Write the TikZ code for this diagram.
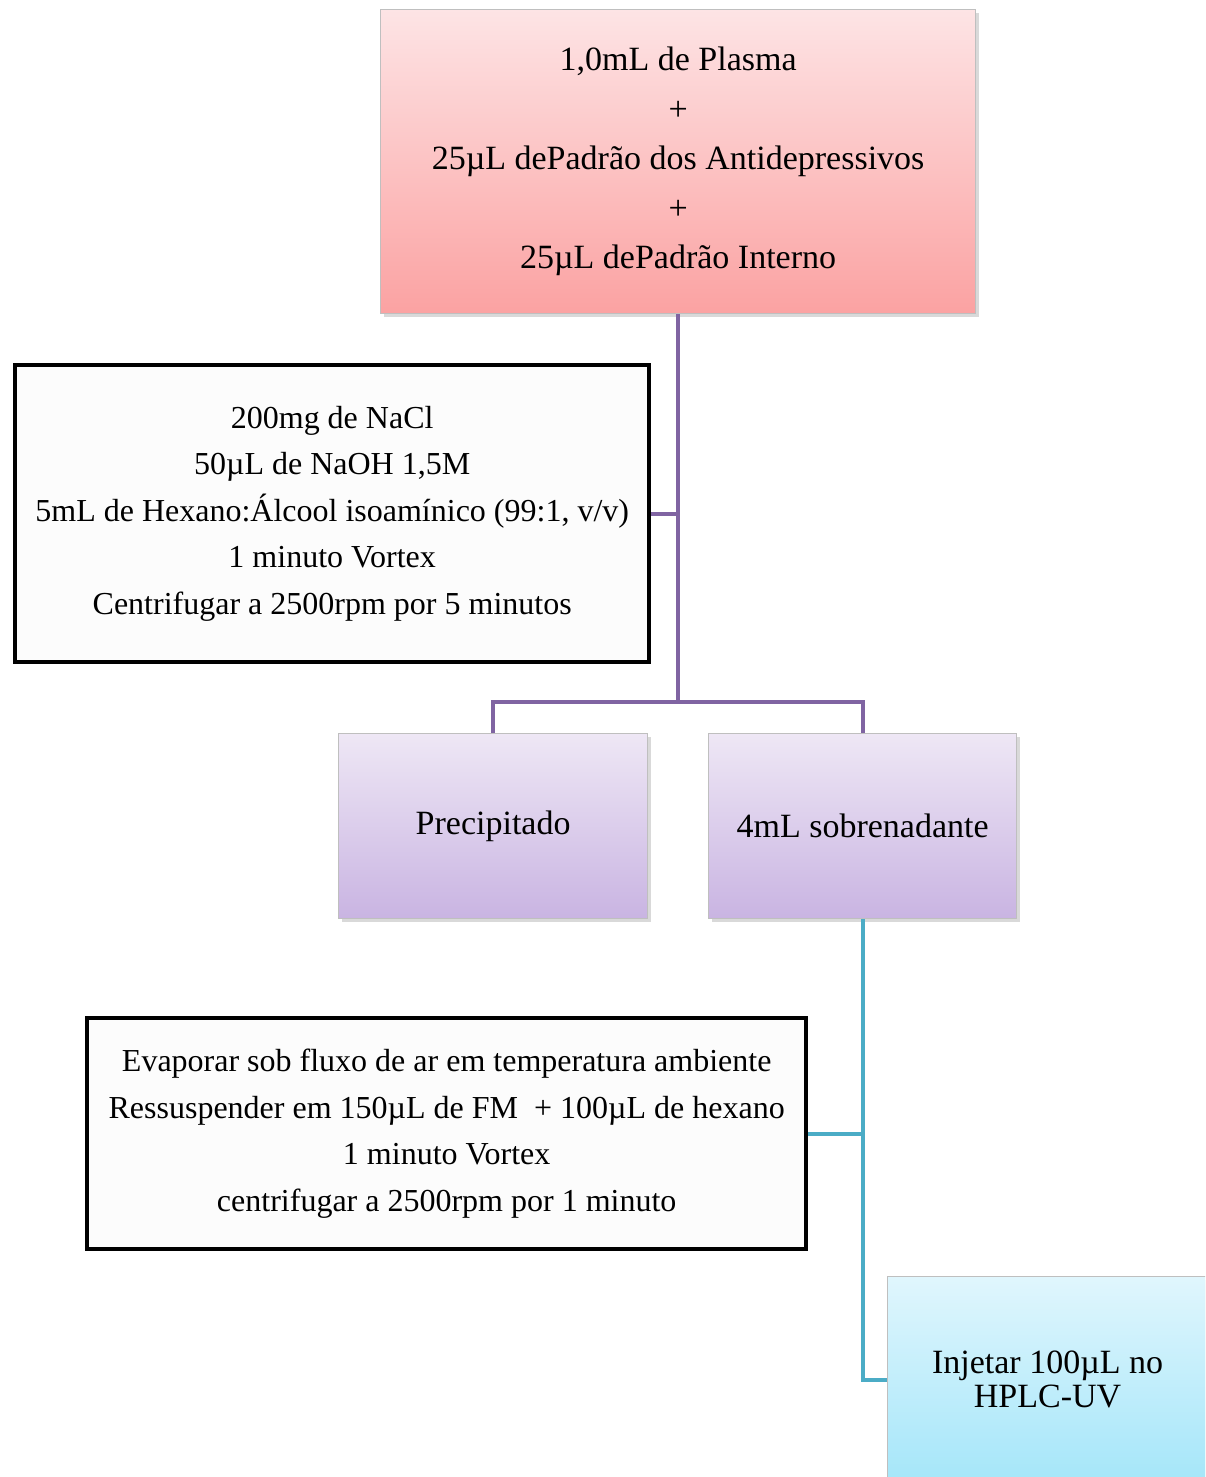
\documentclass[tikz,border=0pt]{standalone}
\usepackage{fontspec}
\setmainfont{Liberation Serif}
\usetikzlibrary{shadows}
\definecolor{pinktop}{HTML}{FDE4E5}
\definecolor{pinkbot}{HTML}{FBA2A2}
\definecolor{lavtop}{HTML}{EEE7F5}
\definecolor{lavbot}{HTML}{C9B4E2}
\definecolor{cyantop}{HTML}{E0F6FD}
\definecolor{cyanbot}{HTML}{A5E6F9}
\definecolor{purpleln}{HTML}{8064A2}
\definecolor{tealln}{HTML}{4BACC6}
\tikzset{
  softshadow/.style={drop shadow={shadow xshift=1.5pt, shadow yshift=-1.5pt, opacity=0.25, fill=black!60}},
  colorbox/.style={draw=black!25, line width=0.6pt, anchor=north west, inner sep=0pt, align=center, softshadow},
  stepbox/.style={draw=black, line width=2.2pt, fill=black!1, anchor=north west, inner sep=0pt, align=center},
  purpleline/.style={draw=purpleln, line width=2pt},
  tealline/.style={draw=tealln, line width=2pt}
}

\begin{document}
\begin{tikzpicture}[x=0.5pt, y=-0.5pt]
    \clip (0,0) rectangle (1205,1477);
    % sample
    \node[colorbox, top color=pinktop, bottom color=pinkbot, minimum width=297.5pt, minimum height=152pt,
          font=\fontsize{17}{24.75}\selectfont]
        (plasma) at (380,9) {1,0mL de Plasma\\+\\25µL dePadrão dos Antidepressivos\\+\\25µL dePadrão Interno};
    % extraction
    \node[stepbox, minimum width=317pt, minimum height=148.5pt, font=\fontsize{16}{23.25}\selectfont]
        (reag) at (13,363) {200mg de NaCl\\50µL de NaOH 1,5M\\5mL de Hexano:Álcool isoamínico (99:1, v/v)\\1 minuto Vortex\\Centrifugar a 2500rpm por 5 minutos};
    % phases
    \node[colorbox, top color=lavtop, bottom color=lavbot, minimum width=154.5pt, minimum height=92.5pt,
          font=\fontsize{17}{20}\selectfont]
        (prec) at (338,733) {Precipitado};
    \node[colorbox, top color=lavtop, bottom color=lavbot, minimum width=154pt, minimum height=92.5pt,
          font=\fontsize{17}{20}\selectfont]
        (sobr) at (708,733) {4mL sobrenadante};
    % evaporation
    \node[stepbox, minimum width=359.5pt, minimum height=115.5pt, font=\fontsize{16}{23.25}\selectfont]
        (evap) at (85,1016) {Evaporar sob fluxo de ar em temperatura ambiente\\Ressuspender em 150µL de FM \ + 100µL de hexano\\1 minuto Vortex\\centrifugar a 2500rpm por 1 minuto};
    % injection
    \node[colorbox, top color=cyantop, bottom color=cyanbot, minimum width=160pt, minimum height=103pt,
          font=\fontsize{17}{17}\selectfont]
        (injet) at (887,1276) {Injetar 100µL no\\HPLC-UV};
    % connectors
    \coordinate (split) at (678,702);
    \draw[purpleline] (plasma.south) -- (plasma.south |- split);
    \draw[purpleline] (reag.east) -- (reag.east -| plasma.south);
    \draw[purpleline] (prec.north) |- (split) -| (sobr.north);
    \draw[tealline] (sobr.south) |- (injet.west);
    \draw[tealline] (evap.east) -- (evap.east -| sobr.south);
\end{tikzpicture}
\end{document}
